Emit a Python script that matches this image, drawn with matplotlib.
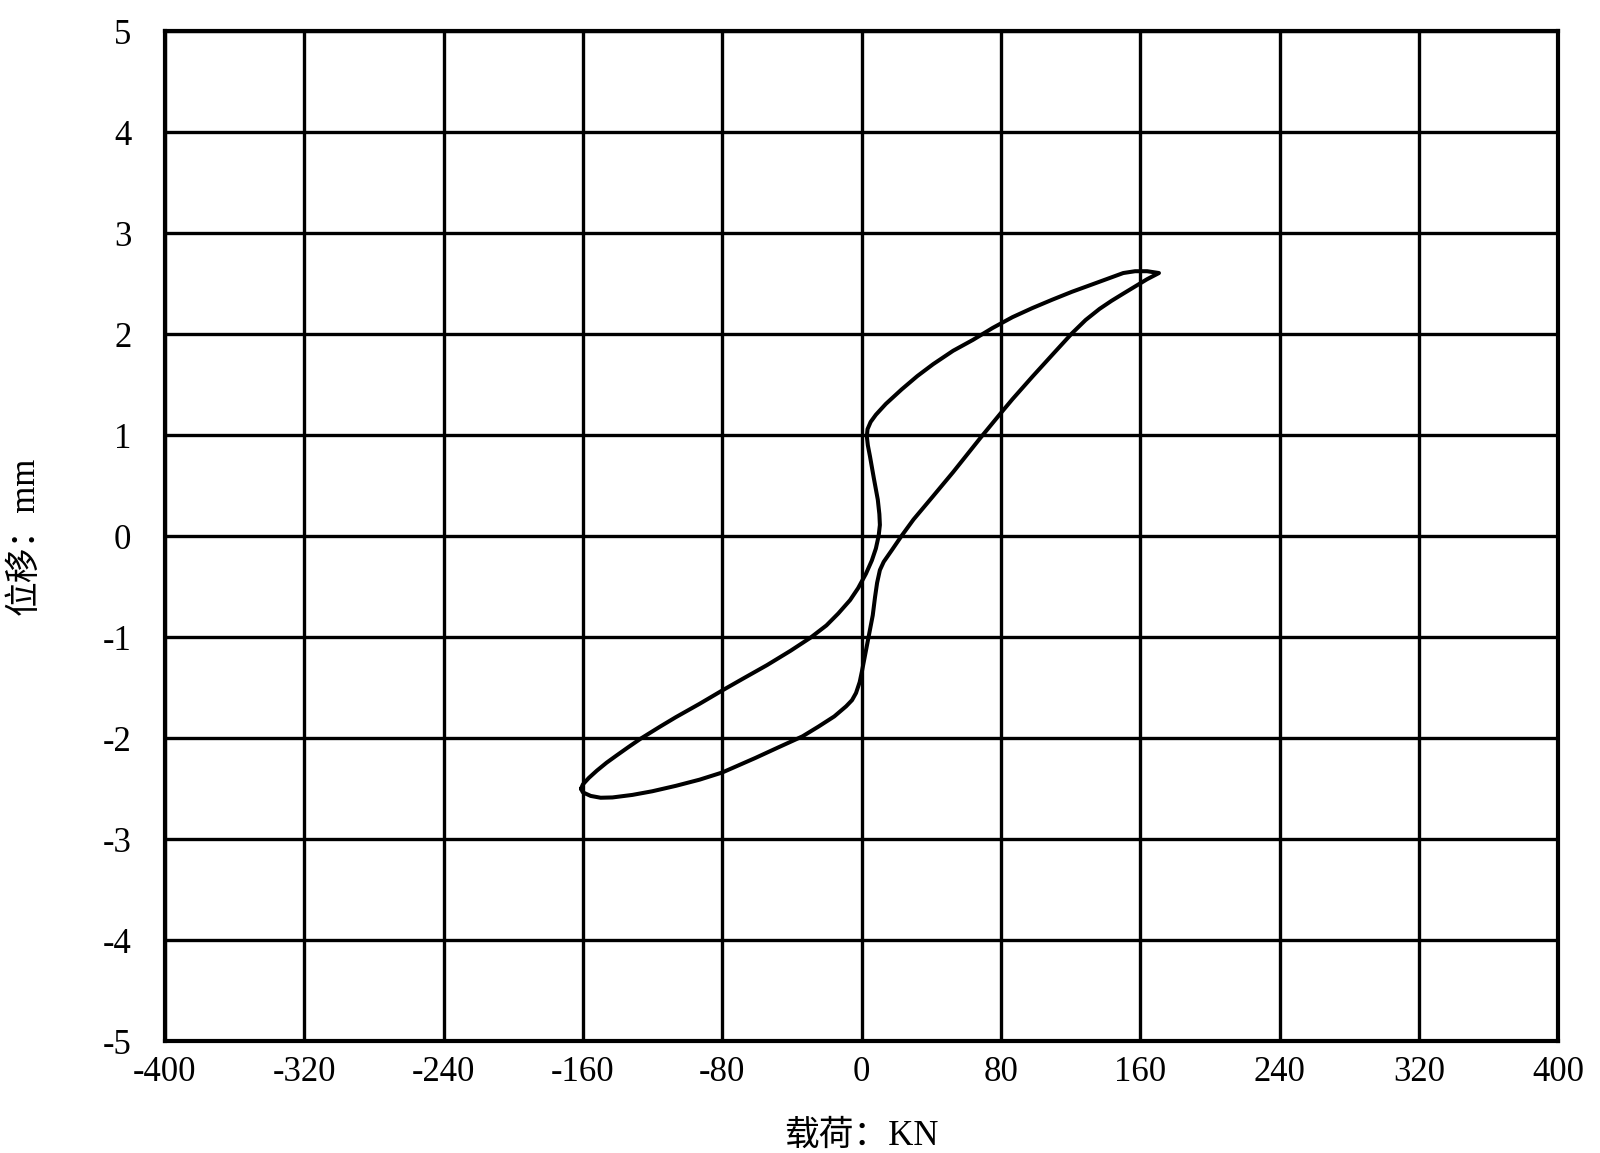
import matplotlib
matplotlib.use("Agg")
import matplotlib.pyplot as plt

plt.rcParams['font.family'] = ['Liberation Serif', 'Noto Sans CJK SC']
plt.rcParams['axes.unicode_minus'] = False

# Hysteresis loop: load (kN) vs displacement (mm)
load_kn = [-161.1, -160.0, -156.6, -152.0, -146.4, -140.7, -133.9, -127.0, -115.7, -106.6,
           -93.0, -80.0, -68.0, -54.3, -40.7, -29.3, -20.2, -13.4, -6.6, -2.0,
           2.5, 5.9, 8.2, 9.8, 10.5, 10.2, 9.3, 7.0, 4.8, 3.6,
           3.0, 3.4, 5.2, 8.2, 13.9, 23.0, 32.0, 41.1, 52.5, 63.9,
           75.2, 86.6, 98.0, 109.3, 120.7, 132.0, 143.4, 150.2, 157.0, 163.9,
           170.7,
           163.9, 157.0, 150.2, 143.4, 136.6, 128.6, 120.7, 109.3, 98.0, 86.6,
           80.0, 68.4, 52.5, 41.1, 29.8, 23.0, 17.3, 12.7, 10.5, 8.9,
           7.7, 6.4, 4.8, 3.2, 1.6, 0.2, -1.1, -3.2, -5.5, -8.9,
           -15.7, -24.8, -33.9, -47.5, -61.1, -80.0, -93.0, -106.6, -120.2, -131.6,
           -143.0, -149.8, -155.5, -160.0, -161.1]
disp_mm = [-2.501, -2.458, -2.394, -2.322, -2.243, -2.172, -2.089, -2.007, -1.886, -1.792,
           -1.660, -1.528, -1.410, -1.277, -1.134, -1.005, -0.884, -0.766, -0.633, -0.515,
           -0.372, -0.240, -0.122, 0.004, 0.111, 0.218, 0.361, 0.576, 0.791, 0.898,
           0.987, 1.059, 1.131, 1.202, 1.309, 1.453, 1.585, 1.703, 1.835, 1.943,
           2.061, 2.168, 2.258, 2.340, 2.419, 2.490, 2.562, 2.605, 2.623, 2.623,
           2.605,
           2.544, 2.472, 2.401, 2.329, 2.250, 2.140, 2.007, 1.792, 1.578, 1.356,
           1.220, 0.977, 0.633, 0.397, 0.165, 0.004, -0.140, -0.254, -0.336, -0.462,
           -0.605, -0.784, -0.927, -1.070, -1.213, -1.338, -1.445, -1.553, -1.624, -1.685,
           -1.785, -1.886, -1.982, -2.089, -2.197, -2.340, -2.411, -2.472, -2.526, -2.562,
           -2.587, -2.590, -2.572, -2.537, -2.501]

x_ticks = [-400, -320, -240, -160, -80, 0, 80, 160, 240, 320, 400]
y_ticks = [-5, -4, -3, -2, -1, 0, 1, 2, 3, 4, 5]
x_label = "载荷：KN"
y_label = "位移：mm"

fig = plt.figure(figsize=(16, 11.53), dpi=100)
ax = fig.add_axes([0.103, 0.097, 0.871, 0.876])

ax.plot(load_kn, disp_mm, color='black', linewidth=2.9,
        solid_joinstyle='round', solid_capstyle='round', zorder=3)

ax.set_xlim(-400, 400)
ax.set_ylim(-5, 5)
ax.set_xticks(x_ticks)
ax.set_yticks(y_ticks)
ax.grid(True, color='black', linewidth=2.4)
ax.set_axisbelow(True)
for s in ax.spines.values():
    s.set_linewidth(3.0)
    s.set_color('black')

ax.tick_params(axis='both', length=0, labelsize=25)
ax.tick_params(axis='x', pad=11)
ax.tick_params(axis='y', pad=24)

ax.set_xlabel(x_label, fontsize=25, labelpad=22)
ax.set_ylabel(y_label, fontsize=25, labelpad=44)

fig.savefig("out.png", dpi=100, facecolor='white')
